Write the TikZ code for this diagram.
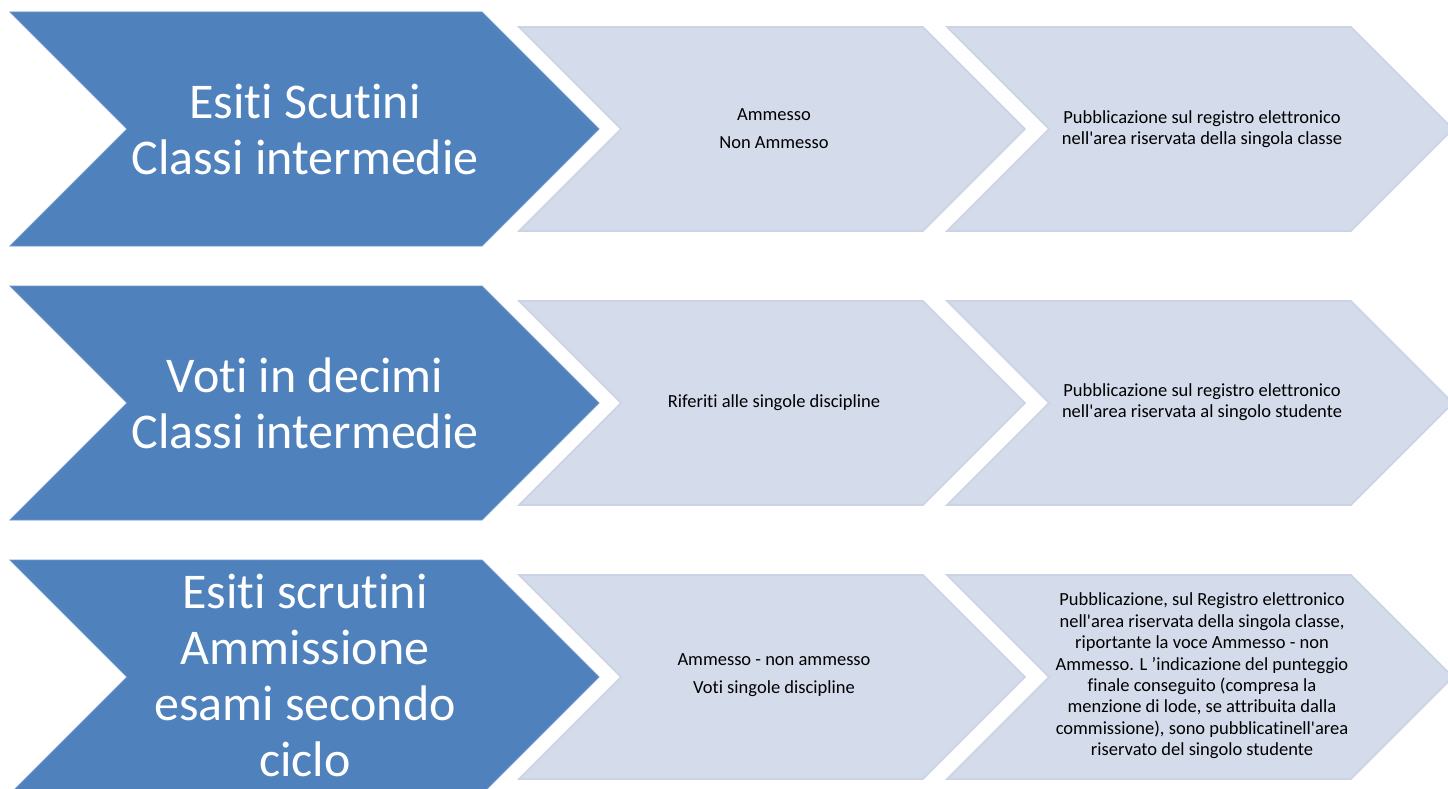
\documentclass[tikz,border=0pt]{standalone}
\usepackage{fontspec}
\setmainfont{Carlito}[Ligatures={NoCommon}]
\definecolor{bluefill}{HTML}{4F81BD}
\definecolor{blueedge}{HTML}{6F97C9}
\definecolor{lightfill}{HTML}{D4DBEA}
\definecolor{lightedge}{HTML}{CBD3E5}
\tikzset{
  bluechev/.style={fill=bluefill, draw=blueedge, line width=0.8pt},
  lightchev/.style={fill=lightfill, draw=lightedge, line width=1.6pt},
  bigtext/.style={text=white, align=center, font=\fontsize{50}{56}\selectfont},
  smalltext/.style={text=black, align=center, font=\fontsize{18.5}{21.4}\selectfont},
}
\newcommand{\ap}{\textquotesingle}
\begin{document}
\begin{tikzpicture}[x=1pt,y=-1pt]
\useasboundingbox (0,0) rectangle (1448,789);
\fill[white] (0,0) rectangle (1448,789);
\foreach \T in {12,286,560}{
  \pgfmathsetmacro{\t}{\T+15}
  \draw[bluechev] (10,\T) -- (482,\T) -- (599,\T+117) -- (482,\T+234) -- (10,\T+234) -- (127,\T+117) -- cycle;
  \draw[lightchev] (519,\t) -- (923,\t) -- (1025,\t+102) -- (923,\t+204) -- (519,\t+204) -- (621,\t+102) -- cycle;
  \draw[lightchev] (947,\t) -- (1351,\t) -- (1453,\t+102) -- (1351,\t+204) -- (947,\t+204) -- (1049,\t+102) -- cycle;
}
% Row 1
\node[bigtext] (b1) at (305,129) {Esiti Scutini\\Classi intermedie};
\node[smalltext] (m1) at (774,129) {Ammesso\\[6.6pt]Non Ammesso};
\node[smalltext] (r1) at (1202,129) {Pubblicazione sul registro elettronico\\nell\ap area riservata della singola classe};
% Row 2
\node[bigtext] (b2) at (305,403) {Voti in decimi\\Classi intermedie};
\node[smalltext] (m2) at (774,403) {Riferiti alle singole discipline};
\node[smalltext] (r2) at (1202,402) {Pubblicazione sul registro elettronico\\nell\ap area riservata al singolo studente};
% Row 3
\node[bigtext] (b3) at (305,675) {Esiti scrutini\\Ammissione\\esami secondo\\ciclo};
\node[smalltext] (m3) at (774,675) {Ammesso - non ammesso\\[6.6pt]Voti singole discipline};
\node[smalltext] (r3) at (1202,676) {Pubblicazione, sul Registro elettronico\\nell\ap area riservata della singola classe,\\riportante la voce Ammesso - non\\Ammesso. L ’indicazione del punteggio\\finale conseguito (compresa la\\menzione di lode, se attribuita dalla\\commissione), sono pubblicatinell\ap area\\riservato del singolo studente};
\end{tikzpicture}
\end{document}
